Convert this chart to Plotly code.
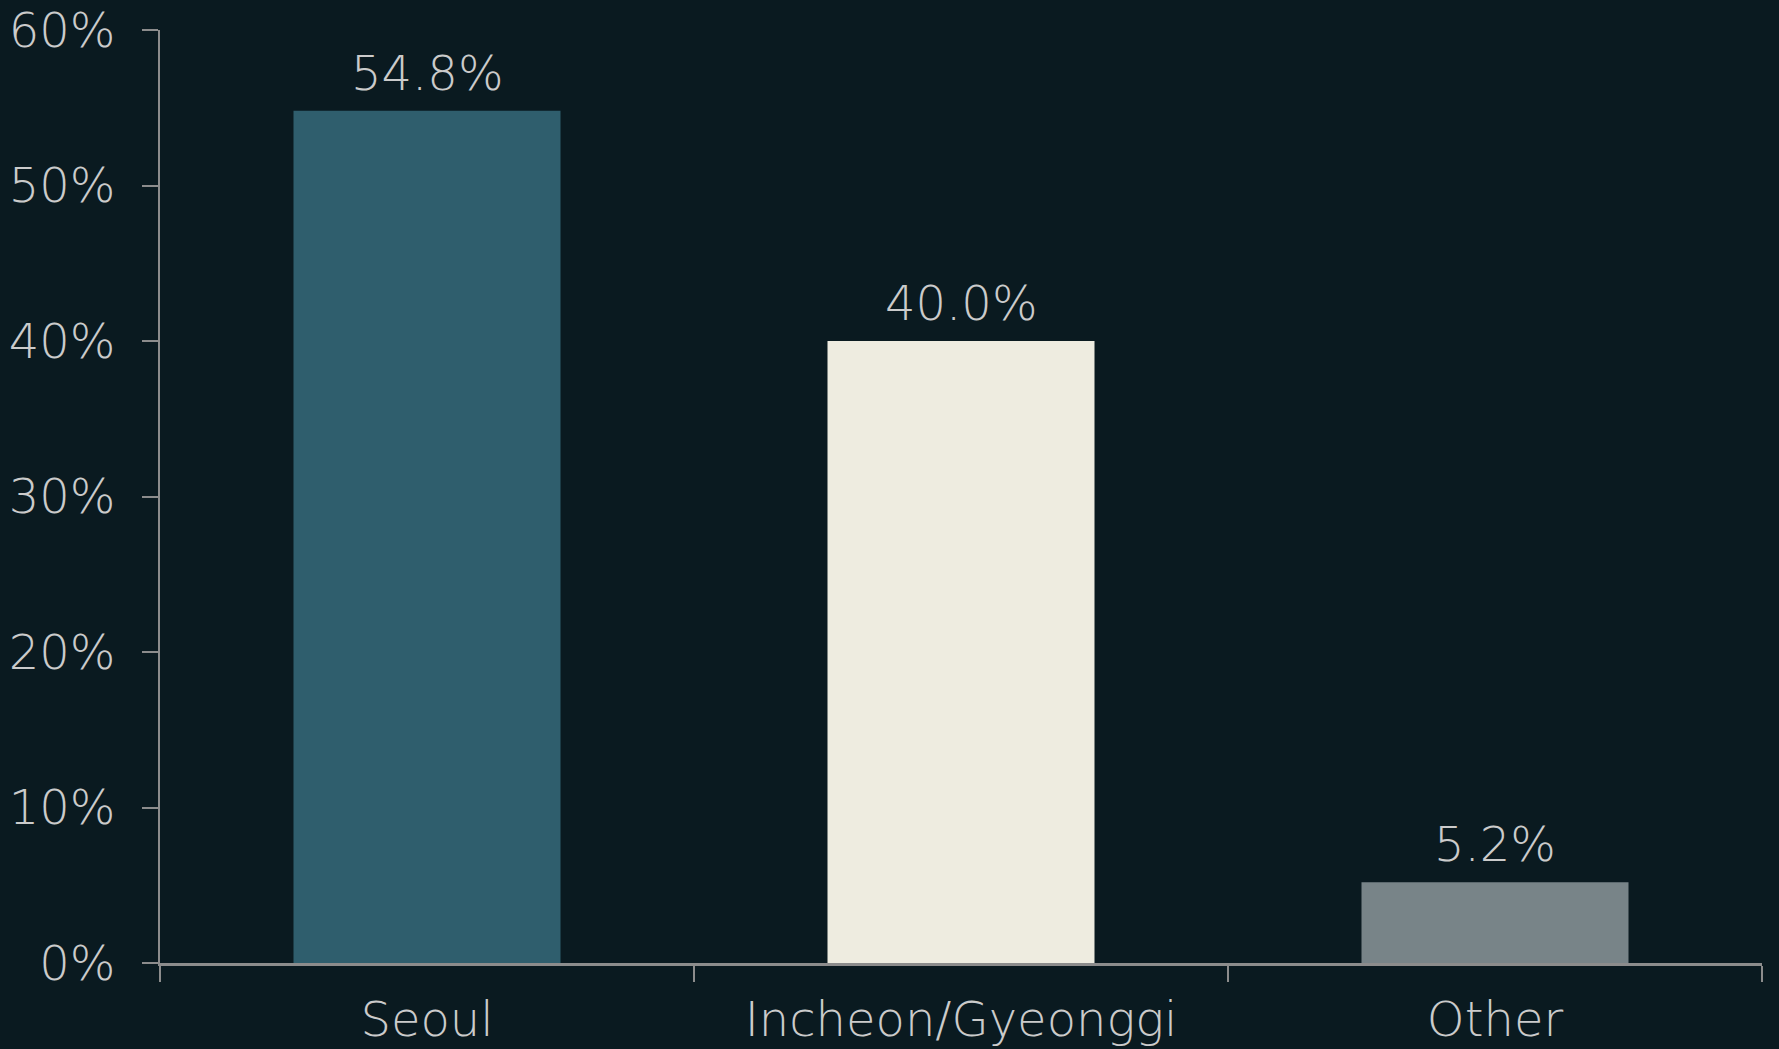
import plotly.graph_objects as go

categories = ["Seoul", "Incheon/Gyeonggi", "Other"]
values = [54.8, 40.0, 5.2]
labels = ["54.8%", "40.0%", "5.2%"]
colors = ["#2f5e6d", "#eeece0", "#788488"]
y_ticks = [0, 10, 20, 30, 40, 50, 60]
y_tick_text = ["0%", "10%", "20%", "30%", "40%", "50%", "60%"]

BG = "#0a1a20"
TXT = "#cbcbcb"
AX = "#8c8c8c"
FONT = dict(family="DejaVu Sans", size=48, color=TXT, weight=200)

fig = go.Figure()
fig.add_trace(go.Bar(x=categories, y=values, marker=dict(color=colors, line=dict(width=0)),
                     width=0.5, hoverinfo="skip"))

for c, v, t in zip(categories, values, labels):
    fig.add_annotation(x=c, y=v, text=t, showarrow=False, yanchor="bottom",
                       yshift=8, font=FONT)

fig.update_layout(
    width=1779, height=1049,
    paper_bgcolor=BG, plot_bgcolor=BG,
    margin=dict(l=160, r=17, t=30, b=86),
    showlegend=False,
    font=FONT,
)
fig.update_xaxes(
    showline=True, linecolor=AX, linewidth=3, automargin=False,
    ticks="outside", tickson="boundaries", ticklen=16, tickwidth=2, tickcolor=AX,
    showgrid=False, tickfont=FONT, ticklabelstandoff=12,
)
fig.update_yaxes(
    range=[0, 60], tickvals=y_ticks, ticktext=y_tick_text, automargin=False,
    showline=True, linecolor=AX, linewidth=2, ticklabeloverflow="allow",
    ticks="outside", ticklen=16, tickwidth=2, tickcolor=AX,
    showgrid=False, zeroline=False, tickfont=FONT, ticklabelstandoff=17,
)
fig.write_html("out.html", config={"displayModeBar": False},
               post_script="document.body.style.margin='0';document.body.style.background='" + BG + "';")
